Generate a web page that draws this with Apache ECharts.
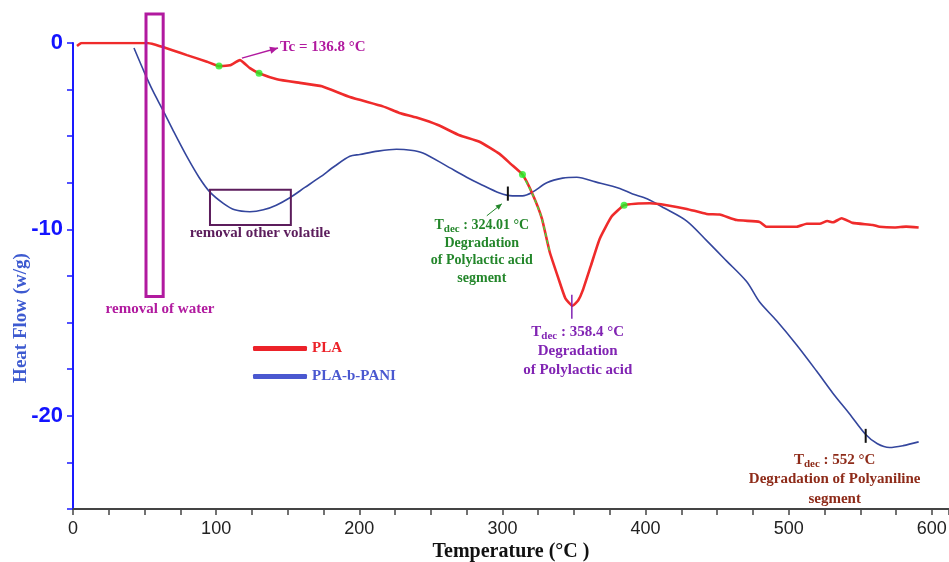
<!DOCTYPE html>
<html>
<head>
<meta charset="utf-8">
<title>DSC - PLA / PLA-b-PANI</title>
<script src="https://cdn.jsdelivr.net/npm/echarts@6/dist/echarts.min.js"></script>
<style>
  html, body { margin: 0; padding: 0; background: #fff; }
  #chart { width: 949px; height: 562px; }
</style>
</head>
<body>
<div id="chart"></div>
<script>
// [temperature °C, heat flow w/g]
const plaCurve = [
  [2.8, -0.16], [6, 0], [20, 0], [40, 0], [51.7, 0], [57, -0.08], [62.8, -0.22],
  [70, -0.4], [79.6, -0.65], [93.6, -1.0], [102, -1.24], [109.6, -1.2], [116.6, -0.92],
  [123.6, -1.35], [130, -1.62], [142.5, -1.94], [158.5, -2.14], [173.9, -2.32],
  [193.4, -2.9], [216.5, -3.4], [228, -3.75], [240, -4.0], [255, -4.4], [270, -4.95],
  [284, -5.3], [298, -5.95], [306, -6.5], [314, -7.06], [321, -8.1], [327.5, -9.4],
  [333, -11.2], [339, -12.6], [344, -13.7], [349, -14.1], [353, -13.8], [356, -13.3],
  [362, -11.9], [368, -10.5], [376.4, -9.3], [385, -8.7], [393, -8.62], [403, -8.6],
  [414.8, -8.7], [428.8, -8.9], [442.7, -9.17], [451.8, -9.2], [463.7, -9.5],
  [479.7, -9.6], [484.6, -9.86], [505.6, -9.86], [512.6, -9.7], [521.6, -9.7],
  [527, -9.55], [531, -9.62], [537, -9.4], [544.7, -9.65], [558.7, -9.76],
  [563.5, -9.86], [574, -9.9], [582, -9.85], [590.8, -9.9]
];
const paniCurve = [
  [42.6, -0.27], [50, -1.6], [56, -2.6], [62.8, -3.6], [70, -4.7], [79.6, -6.1],
  [88, -7.2], [95.7, -8.0], [105, -8.6], [113, -8.95], [123.6, -9.05], [133, -8.95],
  [142, -8.7], [151.5, -8.3], [162, -7.75], [172.5, -7.2], [183, -6.6], [193.4, -6.08],
  [200.4, -5.98], [213, -5.8], [226, -5.7], [236, -5.75], [244.4, -5.9], [260, -6.55],
  [275, -7.2], [284, -7.55], [298, -8.05], [307, -8.2], [314, -8.2], [321, -8.0],
  [331, -7.5], [342, -7.25], [352, -7.2], [365, -7.45], [382, -7.8], [391, -8.1],
  [401, -8.36], [413, -8.85], [428.8, -9.55], [442.7, -10.6], [456.7, -11.7],
  [470.6, -12.8], [479.7, -13.9], [491.6, -14.9], [505.6, -16.2], [519.5, -17.6],
  [531, -18.8], [542.6, -19.9], [553.8, -21.0], [562, -21.5], [570.5, -21.7],
  [580, -21.6], [590.8, -21.4]
];
// green points marked on the PLA trace
const plaMarkers = [[102, -1.24], [130, -1.62], [314, -7.06], [385, -8.7]];
const xLabels = [0, 100, 200, 300, 400, 500, 600];
const yLabels = [0, -10, -20];

const SERIF = '"Liberation Serif", "DejaVu Serif", serif';
const SANS = '"Liberation Sans", Arial, sans-serif';

const chart = echarts.init(document.getElementById('chart'), null, { renderer: 'canvas' });

chart.setOption({
  animation: false,
  backgroundColor: '#fff',
  grid: { left: 73, right: 0, top: 43, bottom: 53, containLabel: false, outerBoundsMode: 'none' },
  legend: {
    orient: 'vertical',
    left: 248,
    top: 336,
    itemWidth: 54,
    itemHeight: 5,
    itemGap: 13,
    icon: 'roundRect',
    textStyle: { fontFamily: SERIF, fontWeight: 'bold', fontSize: 15 },
    data: [
      { name: 'PLA', itemStyle: { color: '#ec2229' }, textStyle: { color: '#ec2229' } },
      { name: 'PLA-b-PANI', itemStyle: { color: '#4a58d0' }, textStyle: { color: '#4a58d0' } }
    ]
  },
  xAxis: {
    type: 'value',
    min: 0,
    max: 612,
    interval: 25,
    name: 'Temperature (°C )',
    nameLocation: 'middle',
    nameGap: 33,
    nameMoveOverlap: false,
    nameTextStyle: { fontFamily: SERIF, fontWeight: 'bold', fontSize: 20, color: '#111' },
    axisLine: { onZero: false, lineStyle: { color: '#444', width: 2 } },
    axisTick: { length: 6, lineStyle: { color: '#444', width: 1.5 } },
    axisLabel: {
      margin: 11,
      fontFamily: SANS,
      fontSize: 18,
      color: '#222',
      formatter: v => (xLabels.includes(v) ? String(v) : '')
    },
    splitLine: { show: false }
  },
  yAxis: {
    type: 'value',
    min: -25,
    max: 0,
    interval: 2.5,
    name: 'Heat Flow (w/g)',
    nameLocation: 'middle',
    nameGap: 42,
    nameMoveOverlap: false,
    nameTextStyle: {
      fontFamily: SERIF, fontWeight: 'bold', fontSize: 19, color: '#3d5ad0',
      padding: [0, 84, 0, 0]
    },
    axisLine: { onZero: false, lineStyle: { color: '#1a1aff', width: 2 } },
    axisTick: { length: 6, lineStyle: { color: '#1a1aff', width: 1.5 } },
    axisLabel: {
      margin: 10,
      fontFamily: SANS,
      fontWeight: 'bold',
      fontSize: 22,
      color: '#1414ff',
      formatter: v => (yLabels.includes(v) ? String(v) : '')
    },
    splitLine: { show: false }
  },
  series: [
    {
      name: 'PLA-b-PANI',
      type: 'line',
      data: paniCurve,
      showSymbol: false,
      smooth: 0.3,
      color: '#34469d',
      lineStyle: { color: '#34469d', width: 1.6 },
      z: 2
    },
    {
      name: 'PLA',
      type: 'line',
      data: plaCurve,
      showSymbol: false,
      smooth: 0.15,
      color: '#ef2b2b',
      lineStyle: { color: '#ef2b2b', width: 2.6 },
      z: 3
    },
    {
      name: 'PLA onset',
      type: 'line',
      data: plaCurve.filter(p => p[0] >= 314 && p[0] <= 336),
      showSymbol: false,
      smooth: 0.15,
      silent: true,
      lineStyle: { color: '#3de03d', width: 1.4, type: [4, 3] },
      z: 4
    },
    {
      name: 'markers',
      type: 'scatter',
      data: plaMarkers,
      symbolSize: 7,
      itemStyle: { color: '#25ee25' },
      silent: true,
      z: 5
    }
  ]
});

// ---- annotations (placed in data coordinates) ----
const toPx = p => chart.convertToPixel({ gridIndex: 0 }, p);

function rectBetween(a, b, stroke, lw) {
  const p = toPx(a), q = toPx(b);
  return {
    type: 'rect',
    shape: { x: p[0], y: p[1], width: q[0] - p[0], height: q[1] - p[1] },
    style: { fill: 'none', stroke: stroke, lineWidth: lw },
    z: 10
  };
}

function segment(a, b, stroke, lw) {
  const p = toPx(a), q = toPx(b);
  return {
    type: 'line',
    shape: { x1: p[0], y1: p[1], x2: q[0], y2: q[1] },
    style: { stroke: stroke, lineWidth: lw },
    z: 10
  };
}

function arrow(a, b, color, lw, head) {
  const p = toPx(a), q = toPx(b);
  const ang = Math.atan2(q[1] - p[1], q[0] - p[0]);
  const w = head * 0.45;
  const back = [q[0] - head * Math.cos(ang), q[1] - head * Math.sin(ang)];
  const pts = [
    q,
    [back[0] + w * Math.sin(ang), back[1] - w * Math.cos(ang)],
    [back[0] - w * Math.sin(ang), back[1] + w * Math.cos(ang)]
  ];
  return [
    segment(a, b, color, lw),
    { type: 'polygon', shape: { points: pts }, style: { fill: color }, z: 10 }
  ];
}

function note(at, text, color, size, align, lineHeight) {
  const p = toPx(at);
  return {
    type: 'text',
    x: p[0],
    y: p[1] - lineHeight / 2,
    style: {
      text: text,
      fill: color,
      font: 'bold ' + size + 'px ' + SERIF,
      align: align,
      verticalAlign: 'top',
      lineHeight: lineHeight,
      rich: {
        s: {
          fill: color, fontSize: 11, fontWeight: 'bold', fontFamily: SERIF,
          verticalAlign: 'bottom', lineHeight: lineHeight
        }
      }
    },
    z: 11
  };
}

const MAGENTA = '#b11a9f';
const PLUM = '#5c1d5c';
const GREEN = '#23862a';
const VIOLET = '#8124b3';
const BROWN = '#8e2b19';

const graphics = [
  rectBetween([51, 1.56], [63, -13.6], MAGENTA, 3),
  note([60.8, -14.3], 'removal of water', MAGENTA, 15, 'center', 17),
  rectBetween([95.7, -7.87], [152.2, -9.76], PLUM, 2),
  note([130.6, -10.2], 'removal other volatile', PLUM, 15, 'center', 17),
  ...arrow([118, -0.81], [143.2, -0.27], MAGENTA, 1.5, 8),
  note([144.6, -0.22], 'Tc = 136.8 °C', MAGENTA, 15, 'left', 18),

  segment([303.8, -7.7], [303.8, -8.46], '#111', 2),
  ...arrow([289.1, -9.27], [299.6, -8.63], GREEN, 1, 6),
  note([285.6, -9.81], 'T{s|dec} : 324.01 °C\nDegradation\nof Polylactic acid\nsegment', GREEN, 14, 'center', 17.5),

  segment([348.5, -13.5], [348.5, -14.8], VIOLET, 1.5),
  note([352.6, -15.5], 'T{s|dec} : 358.4 °C\nDegradation\nof Polylactic acid', VIOLET, 15, 'center', 19),

  segment([553.8, -20.7], [553.8, -21.45], '#111', 2),
  note([532.1, -22.37], 'T{s|dec} : 552 °C\nDegradation of Polyaniline\nsegment', BROWN, 15, 'center', 19.5)
];

chart.setOption({ graphic: graphics });
</script>
</body>
</html>
